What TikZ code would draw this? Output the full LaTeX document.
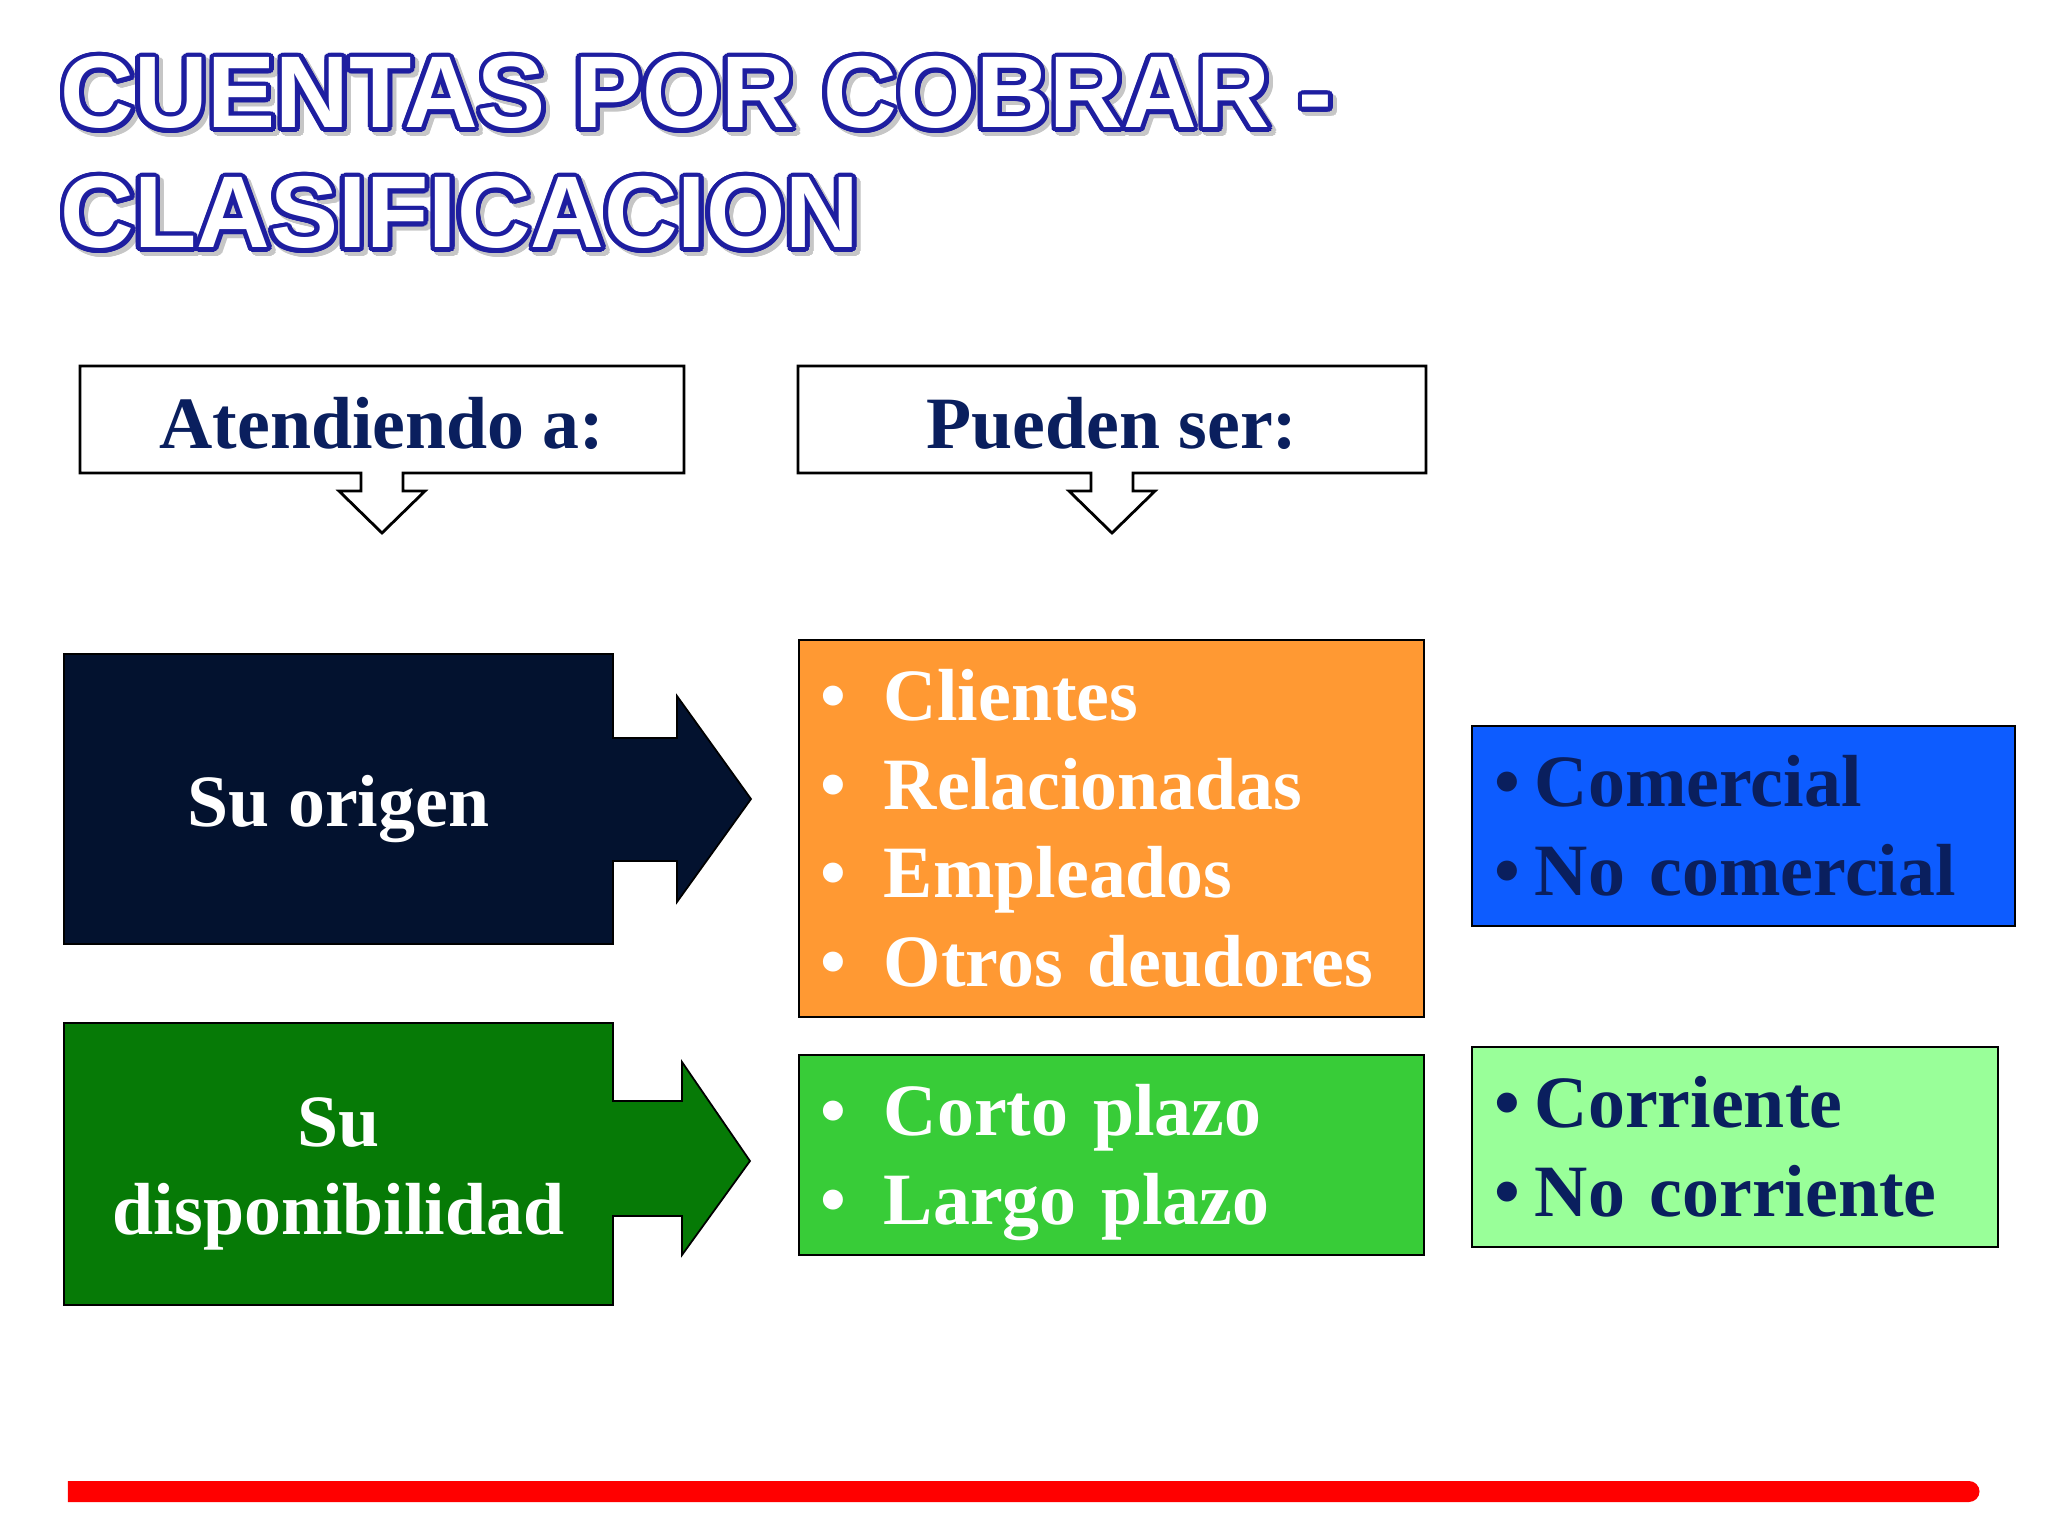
\documentclass[tikz,border=0pt]{standalone}
\usepackage{fontspec}
\setmainfont{Liberation Serif}
\newfontfamily\titlefont{Liberation Sans}
\usepackage[copies]{contour}
\contourlength{1.3pt}
\contournumber{24}
\definecolor{titleblue}{HTML}{1E1EA0}
\definecolor{txtnavy}{HTML}{0A1F5E}
\definecolor{orignavy}{HTML}{03122F}
\definecolor{dispgreen}{HTML}{067A06}
\definecolor{clorange}{HTML}{FF9933}
\definecolor{cortogreen}{HTML}{38CC38}
\definecolor{comblue}{HTML}{0D5CFF}
\definecolor{corrgreen}{HTML}{99FF99}
\tikzset{
every picture/.style={
line width=0.6pt
}}
\newcommand\bul[1]{\makebox[#1][l]{\textbullet}}

\begin{document}
\begin{tikzpicture}[
titletext/.style = {anchor=base west, font=\titlefont\bfseries\fontsize{29}{34}\selectfont},
bigtext/.style = {font=\bfseries\fontsize{21}{25.2}\selectfont},
calloutline/.style = {draw=black, line width=0.8pt, fill=white},
shapeline/.style = {draw=black, line width=0.5pt},
listbox/.style = {rectangle, draw=black, line width=0.6pt, align=left, bigtext}]
\useasboundingbox (0,0) rectangle (20.48,-15.36);

% title with shadow
\node[titletext] (tit1s) at (0.52,-1.32) {\contour{gray!45}{\color{gray!45}CUENTAS POR COBRAR -}};
\node[titletext] (tit2s) at (0.52,-2.52) {\contour{gray!45}{\color{gray!45}CLASIFICACION}};
\node[titletext] (tit1) at (0.48,-1.28) {\contour{titleblue}{\color{white}CUENTAS POR COBRAR -}};
\node[titletext] (tit2) at (0.48,-2.48) {\contour{titleblue}{\color{white}CLASIFICACION}};

% callouts
\draw[calloutline] (0.80,-3.66) -- (6.84,-3.66) -- (6.84,-4.73) -- (4.03,-4.73) -- (4.03,-4.91)
  -- (4.25,-4.91) -- (3.82,-5.33) -- (3.39,-4.91) -- (3.61,-4.91) -- (3.61,-4.73) -- (0.80,-4.73) -- cycle;
\node[bigtext, text=txtnavy] (atend) at (3.82,-4.23) {Atendiendo a:};

\draw[calloutline] (7.98,-3.66) -- (14.26,-3.66) -- (14.26,-4.73) -- (11.33,-4.73) -- (11.33,-4.91)
  -- (11.55,-4.91) -- (11.12,-5.33) -- (10.69,-4.91) -- (10.91,-4.91) -- (10.91,-4.73) -- (7.98,-4.73) -- cycle;
\node[bigtext, text=txtnavy] (pueden) at (11.12,-4.23) {Pueden ser:};

% block arrows
\draw[shapeline, fill=orignavy] (0.64,-6.54) -- (6.13,-6.54) -- (6.13,-7.38) -- (6.77,-7.38) -- (6.77,-6.96)
  -- (7.51,-7.99) -- (6.77,-9.02) -- (6.77,-8.61) -- (6.13,-8.61) -- (6.13,-9.44) -- (0.64,-9.44) -- cycle;
\node[bigtext, text=white] (orig) at (3.385,-8.09) {Su origen};

\draw[shapeline, fill=dispgreen] (0.64,-10.23) -- (6.13,-10.23) -- (6.13,-11.01) -- (6.82,-11.01) -- (6.82,-10.62)
  -- (7.50,-11.61) -- (6.82,-12.55) -- (6.82,-12.16) -- (6.13,-12.16) -- (6.13,-13.05) -- (0.64,-13.05) -- cycle;
\node[bigtext, text=white, align=center] (disp) at (3.385,-11.74) {Su\\disponibilidad};

% lists
\node[listbox, fill=clorange, text=white, minimum height=3.77cm, text width=5.83cm, inner xsep=0.21cm] (clas) at (11.115,-8.285)
  {\bul{0.64cm}Clientes\\ \bul{0.64cm}Relacionadas\\ \bul{0.64cm}Empleados\\ \bul{0.64cm}Otros deudores};
\node[listbox, fill=comblue, text=txtnavy, minimum height=2.0cm, text width=4.99cm, inner xsep=0.22cm] (com) at (17.435,-8.26)
  {\bul{0.41cm}Comercial\\ \bul{0.41cm}No comercial};
\node[listbox, fill=cortogreen, text=white, minimum height=2.0cm, text width=5.83cm, inner xsep=0.21cm] (plazo) at (11.115,-11.55)
  {\rule{0pt}{0.66cm}\bul{0.64cm}Corto plazo\\ \bul{0.64cm}Largo plazo};
\node[listbox, fill=corrgreen, text=txtnavy, minimum height=2.0cm, text width=4.82cm, inner xsep=0.22cm] (corr) at (17.35,-11.47)
  {\bul{0.41cm}Corriente\\ \bul{0.41cm}No corriente};

% red bar
\fill[red] (0.68,-14.81) -- (19.69,-14.81) arc (90:-90:0.105) -- (0.68,-15.02) -- cycle;
\end{tikzpicture}
\end{document}
